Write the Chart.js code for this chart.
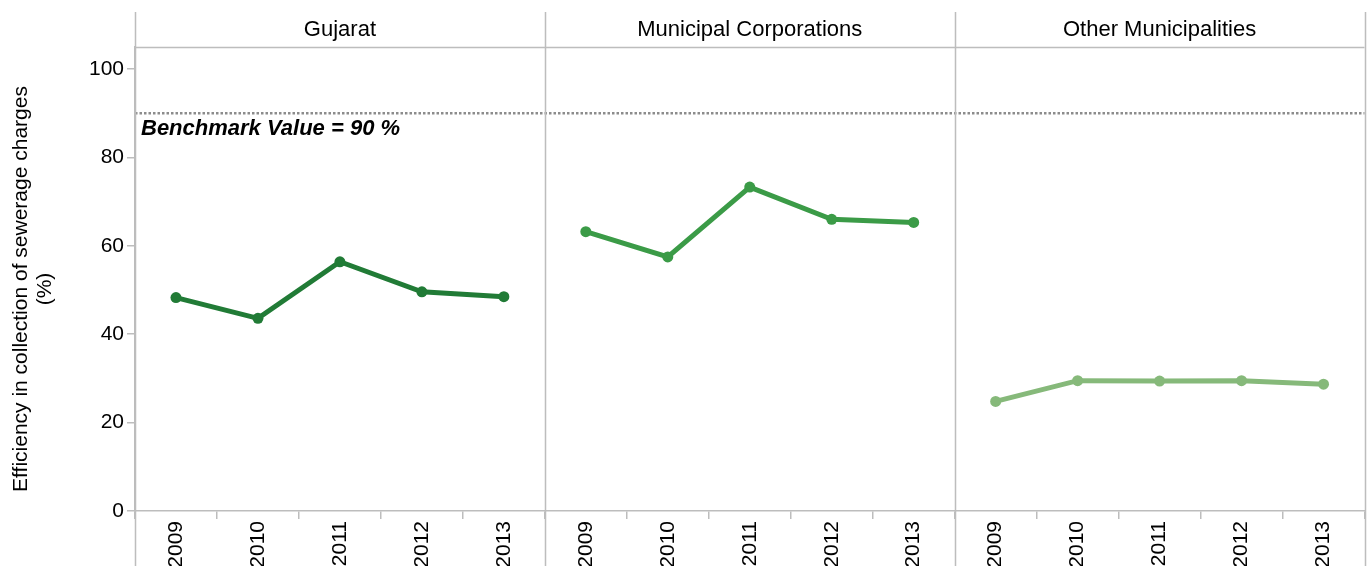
<!DOCTYPE html>
<html>
<head>
<meta charset="utf-8">
<script src="https://cdn.jsdelivr.net/npm/chart.js@4"></script>
<style>
  html, body { margin: 0; padding: 0; background: #fff; overflow: hidden; }
  #wrap { width: 1370px; height: 566px; }
</style>
</head>
<body>
<div id="wrap"><canvas id="chart" width="1370" height="566"></canvas></div>
<script>
// data
const years = ['2009', '2010', '2011', '2012', '2013'];
const panels = ['Gujarat', 'Municipal Corporations', 'Other Municipalities'];
const gujarat = [48.3, 43.6, 56.4, 49.6, 48.5];
const municipalCorps = [63.2, 57.5, 73.3, 66.0, 65.3];
const otherMunis = [24.8, 29.5, 29.4, 29.5, 28.7];
const benchmark = 90;
const yTicks = [0, 20, 40, 60, 80, 100];
const yTitle = ['Efficiency in collection of sewerage charges', '(%)'];

const seriesList = [gujarat, municipalCorps, otherMunis];
const colors = ['#217b36', '#3b9b47', '#86b97a'];
const FONT = 'Liberation Sans, Arial, sans-serif';
const GRAY = '#bdbdbd';

// one label per year per panel
const labels = [];
panels.forEach(() => years.forEach(y => labels.push(y)));

const datasets = seriesList.map((vals, p) => {
  const data = labels.map(() => null);
  vals.forEach((v, i) => { data[p * years.length + i] = v; });
  return {
    label: panels[p],
    data,
    borderColor: colors[p],
    backgroundColor: colors[p],
    pointBackgroundColor: colors[p],
    pointBorderColor: colors[p],
    borderWidth: 5,
    pointRadius: 5.5,
    pointBorderWidth: 0,
    tension: 0,
    spanGaps: false
  };
});

// panel frame, strip headers, benchmark line, y title
const panelPlugin = {
  id: 'panels',
  beforeDatasetsDraw(chart) {
    const ctx = chart.ctx;
    const area = chart.chartArea;
    const y = chart.scales.y.getPixelForValue(benchmark);
    ctx.save();
    ctx.strokeStyle = '#8c8c8c';
    ctx.lineWidth = 2.5;
    ctx.setLineDash([2.5, 2]);
    ctx.beginPath();
    ctx.moveTo(area.left, y);
    ctx.lineTo(area.right, y);
    ctx.stroke();
    ctx.restore();
  },
  afterDraw(chart) {
    const ctx = chart.ctx;
    const area = chart.chartArea;
    const x = chart.scales.x;
    const n = years.length;
    const edges = [area.left];
    for (let p = 1; p < panels.length; p++) {
      edges.push((x.getPixelForValue(p * n - 1) + x.getPixelForValue(p * n)) / 2);
    }
    edges.push(area.right);

    ctx.save();
    ctx.strokeStyle = GRAY;
    ctx.lineWidth = 1.5;
    edges.forEach(e => {
      ctx.beginPath();
      ctx.moveTo(Math.round(e) + 0.5, 12);
      ctx.lineTo(Math.round(e) + 0.5, 566);
      ctx.stroke();
    });
    ctx.beginPath();
    ctx.moveTo(area.left, area.top + 0.5);
    ctx.lineTo(area.right, area.top + 0.5);
    ctx.stroke();

    ctx.fillStyle = '#000';
    ctx.font = '22px ' + FONT;
    ctx.textAlign = 'center';
    ctx.textBaseline = 'middle';
    panels.forEach((name, p) => {
      ctx.fillText(name, (edges[p] + edges[p + 1]) / 2, 30);
    });

    ctx.font = 'italic bold 22px ' + FONT;
    ctx.textAlign = 'left';
    ctx.textBaseline = 'alphabetic';
    ctx.fillText('Benchmark Value = ' + benchmark + ' %', area.left + 6, chart.scales.y.getPixelForValue(benchmark) + 22);

    // axis title, centred on the whole figure height like the original
    ctx.translate(0, 289);
    ctx.rotate(-Math.PI / 2);
    ctx.font = '21px ' + FONT;
    ctx.textAlign = 'center';
    ctx.textBaseline = 'middle';
    yTitle.forEach((line, i) => ctx.fillText(line, 0, 21 + i * 24));
    ctx.restore();
  }
};

new Chart(document.getElementById('chart').getContext('2d'), {
  type: 'line',
  data: { labels, datasets },
  plugins: [panelPlugin],
  options: {
    responsive: false,
    animation: false,
    layout: { padding: { top: 47, right: 4, left: 0, bottom: 0 } },
    plugins: {
      legend: { display: false },
      tooltip: { enabled: false }
    },
    scales: {
      x: {
        type: 'category',
        offset: true,
        afterFit: scale => { scale.height = 55; },
        border: { color: GRAY, width: 1.5 },
        grid: { offset: true, drawOnChartArea: false, color: GRAY, tickLength: 8, lineWidth: 1.5 },
        ticks: {
          color: '#000',
          font: { family: FONT, size: 21 },
          minRotation: 90,
          maxRotation: 90,
          autoSkip: false,
          padding: 2
        }
      },
      y: {
        min: 0,
        max: 105,
        afterFit: scale => { scale.width = 135; },
        afterBuildTicks: scale => { scale.ticks = yTicks.map(v => ({ value: v })); },
        border: { color: GRAY, width: 1.5 },
        grid: { drawOnChartArea: false, color: GRAY, tickLength: 8, lineWidth: 1.5 },
        ticks: {
          color: '#000',
          font: { family: FONT, size: 21 },
          padding: 3
        }
      }
    }
  }
});
</script>
</body>
</html>
